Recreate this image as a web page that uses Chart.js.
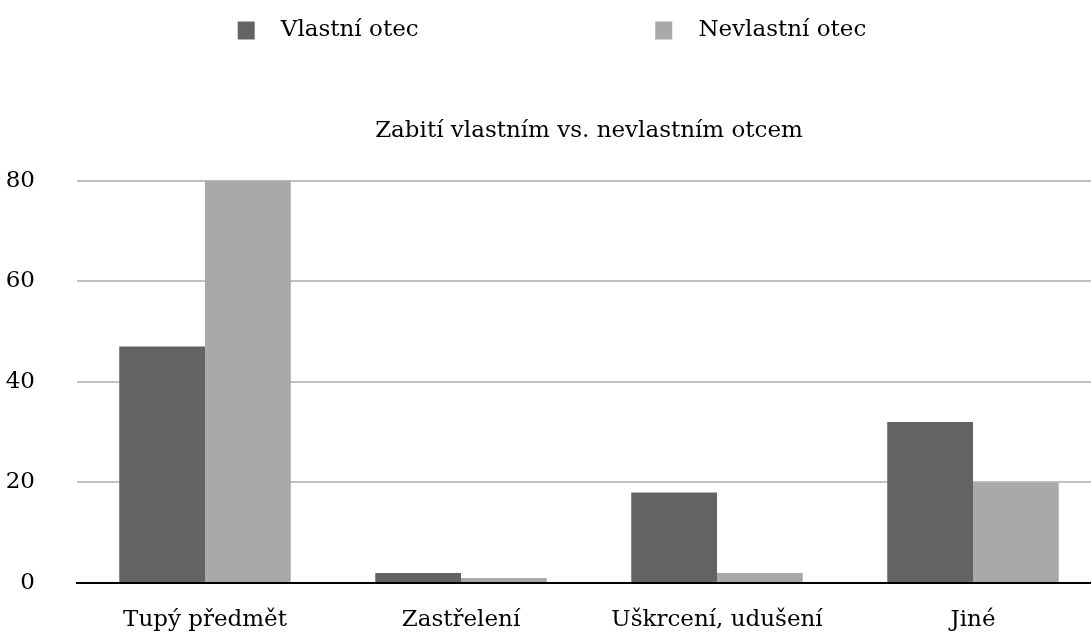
<!DOCTYPE html>
<html>
<head>
<meta charset="utf-8">
<script src="https://cdn.jsdelivr.net/npm/chart.js@4"></script>
<style>
  html, body { margin: 0; padding: 0; overflow: hidden; background: #fff; }
  #wrap { width: 1101px; height: 635px; }
</style>
</head>
<body>
<div id="wrap"><canvas id="killChart" width="1101" height="635"></canvas></div>
<script>
const categories = ['Tupý předmět', 'Zastřelení', 'Uškrcení, udušení', 'Jiné'];
const seriesNames = ['Vlastní otec', 'Nevlastní otec'];
const ownFather = [47, 2, 18, 32];
const stepFather = [80, 1, 2, 20];
const yTicks = [0, 20, 40, 60, 80];
const chartTitle = 'Zabití vlastním vs. nevlastním otcem';

document.addEventListener("DOMContentLoaded", function() {
    Chart.defaults.font.family = "'DejaVu Serif', serif";
    Chart.defaults.font.size = 23;
    Chart.defaults.color = '#000';

    const ctx = document.getElementById('killChart').getContext('2d');
    const killChart = new Chart(ctx, {
        type: 'bar',
        data: {
            labels: categories,
            datasets: [
                { label: seriesNames[0], data: ownFather, backgroundColor: '#636363' },
                { label: seriesNames[1], data: stepFather, backgroundColor: '#a9a9a9' }
            ]
        },
        options: {
            responsive: false,
            animation: false,
            categoryPercentage: 0.67,
            barPercentage: 1,
            layout: { padding: { left: 3, top: 9, right: 0, bottom: 0 } },
            plugins: {
                legend: {
                    position: 'top',
                    weight: 3000,
                    labels: {
                        boxWidth: 17,
                        boxHeight: 18,
                        padding: 10,
                        // spread the two items apart like the original
                        generateLabels: function(chart) {
                            const items = Chart.defaults.plugins.legend.labels.generateLabels(chart);
                            items.forEach(function(it, i) {
                                it.text = '  ' + it.text + (i === 0 ? ' '.repeat(31) : '');
                                it.lineWidth = 0;
                            });
                            return items;
                        }
                    }
                },
                title: {
                    display: true,
                    text: chartTitle,
                    fullSize: false,
                    weight: 500,
                    font: { weight: 'normal', size: 23 },
                    color: '#000',
                    padding: { top: 65, bottom: 36 }
                },
                tooltip: { enabled: false }
            },
            scales: {
                x: {
                    grid: { display: false, drawTicks: false },
                    border: { display: true, color: '#000', width: 2 },
                    ticks: { padding: 23 },
                    afterFit: function(axis) { axis.height = 52; }
                },
                y: {
                    min: 0,
                    max: 80,
                    afterBuildTicks: function(axis) {
                        axis.ticks = yTicks.map(function(v) { return { value: v }; });
                    },
                    // invisible tick marks push the labels out to the left
                    grid: { color: '#c0c0c0', lineWidth: 2, drawTicks: true, tickLength: 39, tickColor: 'rgba(0,0,0,0)' },
                    border: { display: false },
                    ticks: { padding: 3 },
                    afterFit: function(axis) { axis.width = 74; }
                }
            }
        }
    });
});
</script>
</body>
</html>
